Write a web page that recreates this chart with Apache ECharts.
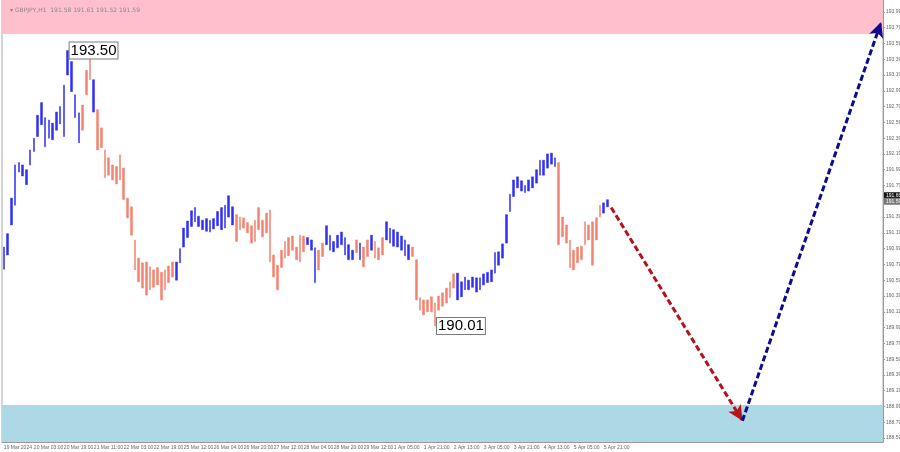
<!DOCTYPE html>
<html><head><meta charset="utf-8">
<script src="https://cdn.jsdelivr.net/npm/echarts@6/dist/echarts.min.js"></script>
<style>html,body{margin:0;padding:0;background:#fff}#c{width:900px;height:452px}</style>
</head><body><div id="c"></div>
<script>
const symbolTitle = 'GBPJPY,H1  191.58 191.61 191.52 191.59';
const xTickLabels = ['19 Mar 2024','20 Mar 03:00','20 Mar 19:00','21 Mar 11:00','22 Mar 03:00','22 Mar 19:00','25 Mar 12:00','26 Mar 04:00','26 Mar 20:00','27 Mar 12:00','28 Mar 04:00','28 Mar 20:00','29 Mar 12:00','1 Apr 05:00','1 Apr 21:00','2 Apr 13:00','3 Apr 05:00','3 Apr 21:00','4 Apr 13:00','5 Apr 05:00','5 Apr 21:00'];
const slotsPerLabel = 8;   // 2-hour bars, label every 16 hours
const slotCount = 235;     // bars + empty forecast space
const barHigh = [191.01,191.18,191.63,192.05,192.08,192.05,191.99,192.24,192.39,192.68,
192.84,192.65,192.62,192.58,192.72,192.79,193.06,193.50,193.36,192.94,
192.71,192.81,193.25,193.47,193.13,192.75,192.52,192.24,192.14,192.05,
192.03,192.18,192.01,191.63,191.52,191.10,190.87,190.81,190.82,190.76,
190.72,190.75,190.69,190.72,190.77,190.82,190.82,190.99,191.25,191.34,
191.47,191.51,191.40,191.35,191.37,191.35,191.37,191.46,191.51,191.54,
191.66,191.52,191.42,191.39,191.38,191.32,191.28,191.35,191.51,191.35,
191.44,191.48,190.91,190.78,190.97,191.08,191.13,191.15,191.01,191.16,
191.15,191.13,191.10,191.00,190.97,191.06,191.28,191.16,191.08,191.16,
191.20,191.13,191.04,190.97,191.10,191.06,191.01,191.10,191.16,191.08,
191.00,191.13,191.33,191.25,191.23,191.20,191.15,191.10,191.04,191.01,
190.85,190.37,190.34,190.34,190.38,190.30,190.39,190.43,190.49,190.57,
190.67,190.68,190.57,190.63,190.59,190.63,190.62,190.62,190.67,190.69,
190.72,190.94,190.95,191.05,191.42,191.68,191.86,191.90,191.85,191.79,
191.86,191.90,191.99,192.11,192.11,192.19,192.20,192.14,192.08,191.39,
191.29,191.10,190.97,191.01,191.02,191.33,191.29,191.33,191.38,191.54,
191.57,191.61];
const barLow = [190.73,190.91,191.29,191.54,191.96,191.91,191.80,192.05,192.22,192.41,
192.56,192.28,192.39,192.37,192.49,192.57,192.41,193.19,192.98,192.65,
192.33,192.49,192.94,193.13,192.72,192.24,192.27,191.89,191.92,191.86,
191.81,191.86,191.61,191.38,191.16,190.72,190.57,190.49,190.40,190.47,
190.50,190.53,190.34,190.47,190.56,190.63,190.59,190.81,191.01,191.13,
191.27,191.33,191.27,191.23,191.21,191.20,191.24,191.28,191.23,191.25,
191.39,191.29,191.08,191.23,191.25,191.19,191.06,191.08,191.23,191.14,
191.19,190.82,190.63,190.47,190.75,190.87,190.90,190.97,190.85,190.82,
190.95,191.04,190.97,190.56,190.72,190.89,191.04,190.97,190.95,191.00,
191.04,190.91,190.85,190.85,190.94,190.85,190.76,190.89,190.97,190.87,
190.85,190.91,191.10,191.06,191.02,191.01,190.97,190.90,190.85,190.89,
190.34,190.21,190.15,190.19,190.19,190.01,190.21,190.26,190.30,190.37,
190.49,190.34,190.38,190.47,190.47,190.50,190.44,190.47,190.53,190.56,
190.57,190.68,190.78,190.87,191.06,191.46,191.65,191.76,191.72,191.70,
191.72,191.76,191.82,191.92,191.92,192.01,192.06,192.03,191.04,191.14,
191.06,190.75,190.72,190.81,190.85,191.04,191.10,190.78,191.10,191.39,
191.44,191.52];
const waveSegments = [[0,20,'up'],[21,23,'down'],[24,24,'up'],[25,45,'down'],[46,61,'up'],[62,80,'down'],[81,83,'up'],[84,85,'down'],[86,93,'up'],[94,94,'down'],[95,95,'up'],[96,97,'down'],[98,98,'up'],[99,101,'down'],[102,108,'up'],[109,120,'down'],[121,147,'up'],[148,159,'down'],[160,161,'up']];
const yTicks = [188.59,188.79,188.99,189.19,189.39,189.59,189.79,189.99,190.19,190.39,190.59,190.79,190.99,191.19,191.39,191.79,191.99,192.19,192.39,192.59,192.79,192.99,193.19,193.39,193.59,193.79,193.99];
const yRange = [188.54, 194.14];
const resistanceZone = [193.71, 194.14];
const supportZone = [188.54, 189.01];
const extremeHigh = [17, 193.50];
const extremeLow = [115, 190.01];
const forecastDown = [[162, 191.51], [197, 188.81]];
const forecastUp = [[197, 188.81], [234, 193.86]];
const priceBoxes = [191.66, 191.59];

const UP = '#2f2ff2', DOWN = '#f4826e';
const colorOf = i => { for (const s of waveSegments) if (i >= s[0] && i <= s[1]) return s[2] === 'up' ? UP : DOWN; return UP; };
const categories = Array.from({length: slotCount}, (_, i) => String(i));
const candleData = barHigh.map((h, i) => {
  const c = colorOf(i);
  return { value: [barLow[i], h, barLow[i], h], itemStyle: { color: c, color0: c, borderColor: c, borderColor0: c } };
});
const showTick = idx => idx % slotsPerLabel === 0 && idx / slotsPerLabel < xTickLabels.length;
const boxLabel = {
  show: true, position: 'right', distance: 2, fontSize: 15, fontFamily: 'Liberation Sans, Arial, sans-serif',
  color: '#000', backgroundColor: '#fff', borderColor: '#7a7a7a', borderWidth: 1, padding: [1, 1, 0, 1],
  formatter: p => p.value.toFixed(2)
};
const chart = echarts.init(document.getElementById('c'));
chart.setOption({
  animation: false,
  backgroundColor: '#fff',
  title: { text: '\u25BE ' + symbolTitle, left: 5, top: 2, textStyle: { fontSize: 6, color: '#888', fontWeight: 'normal', fontFamily: 'DejaVu Sans' } },
  grid: { left: 2, right: 17, top: 0, bottom: 10, outerBoundsMode: 'none', containLabel: false, show: true, borderColor: '#aaa', borderWidth: 1, backgroundColor: 'transparent' },
  xAxis: {
    type: 'category', data: categories, boundaryGap: true,
    axisLine: { lineStyle: { color: '#999' } },
    axisTick: { alignWithLabel: true, interval: showTick, length: 2, lineStyle: { color: '#999' } },
    axisLabel: { interval: showTick, showMinLabel: true, hideOverlap: false, formatter: (v, idx) => xTickLabels[idx / slotsPerLabel] || '', fontSize: 5, color: '#666', align: 'left', margin: 3, fontFamily: 'Liberation Sans' },
    splitLine: { show: false }
  },
  yAxis: {
    type: 'value', position: 'right', min: yRange[0], max: yRange[1], scale: true,
    axisLine: { show: true, lineStyle: { color: '#999' } },
    axisTick: { show: true, customValues: yTicks, length: 2, lineStyle: { color: '#999' } },
    axisLabel: { customValues: yTicks, formatter: v => v.toFixed(2), fontSize: 5, color: '#666', margin: 3, fontFamily: 'Liberation Sans' },
    splitLine: { show: false }
  },
  series: [
    {
      type: 'candlestick', data: candleData, barWidth: 2.2, clip: false,
      itemStyle: { borderWidth: 0.5 },
      markArea: {
        silent: true,
        data: [
          [{ yAxis: resistanceZone[0], itemStyle: { color: '#ffc0cb', opacity: 1 } }, { yAxis: resistanceZone[1] }],
          [{ yAxis: supportZone[0], itemStyle: { color: '#add8e6', opacity: 1 } }, { yAxis: supportZone[1] }]
        ]
      },
      markPoint: {
        symbol: 'circle', symbolSize: 0, silent: true,
        label: boxLabel,
        data: [
          { coord: extremeHigh, value: extremeHigh[1] },
          { coord: extremeLow, value: extremeLow[1] }
        ]
      },
      markLine: {
        silent: true, symbol: ['none', 'none'], precision: 2,
        lineStyle: { color: 'rgba(0,0,0,0)', width: 0, type: 'solid' },
        label: { show: true, position: 'end', distance: 1, fontSize: 5, color: '#fff', padding: [1, 2], fontFamily: 'Liberation Sans', formatter: p => Number(p.value).toFixed(2) },
        data: [
          { yAxis: priceBoxes[0], label: { backgroundColor: '#111' } },
          { yAxis: priceBoxes[1], label: { backgroundColor: '#777' } }
        ]
      }
    },
    {
      type: 'line', data: [], silent: true,
      markLine: {
        silent: true, symbol: ['none', 'arrow'], symbolSize: [11, 15],
        lineStyle: { color: '#b5121b', width: 3, type: [6, 3] }, label: { show: false },
        data: [[{ coord: forecastDown[0] }, { coord: forecastDown[1] }]]
      }
    },
    {
      type: 'line', data: [], silent: true,
      markLine: {
        silent: true, symbol: ['none', 'arrow'], symbolSize: [11, 15],
        lineStyle: { color: '#0c0c8c', width: 3, type: [6, 3] }, label: { show: false },
        data: [[{ coord: forecastUp[0] }, { coord: forecastUp[1] }]]
      }
    }
  ]
});
</script></body></html>
